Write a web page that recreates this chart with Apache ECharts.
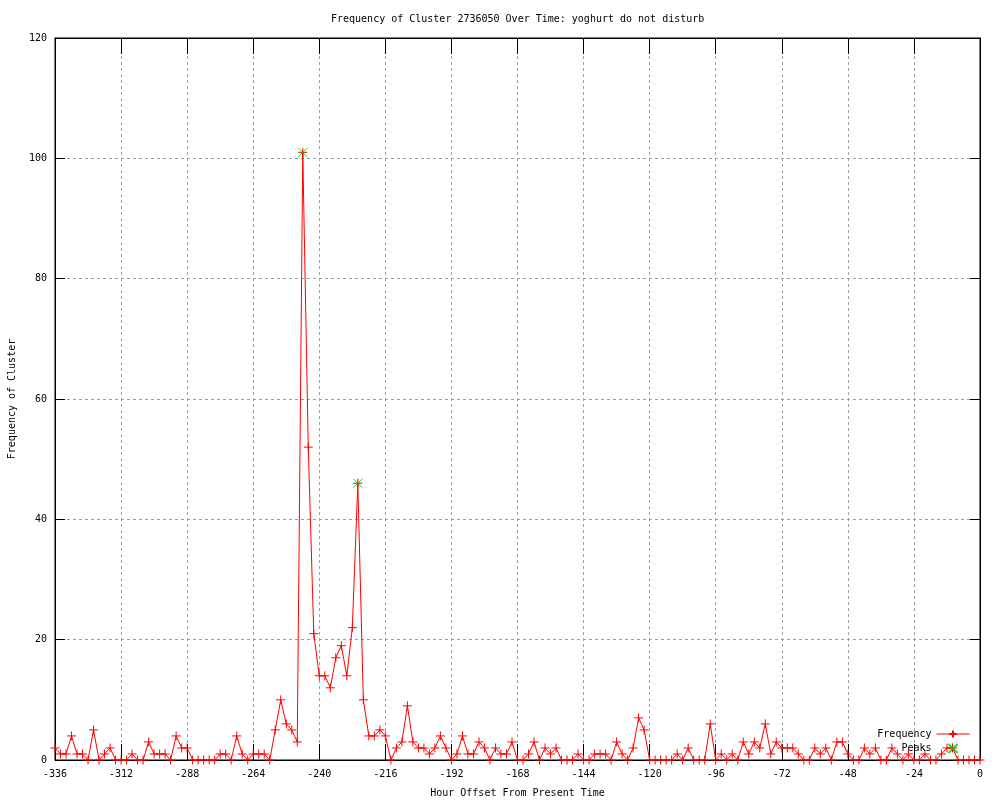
<!DOCTYPE html>
<html><head><meta charset="utf-8">
<script src="https://cdn.jsdelivr.net/npm/echarts@6/dist/echarts.min.js"></script>
<style>html,body{margin:0;padding:0;background:#fff}#c{width:1000px;height:800px}</style>
</head><body><div id="c"></div>
<script>
const titleText = 'Frequency of Cluster 2736050 Over Time: yoghurt do not disturb';
const xAxisTitle = 'Hour Offset From Present Time';
const yAxisTitle = 'Frequency of Cluster';
const seriesNames = ['Frequency', 'Peaks'];

const hours = [
  -336,-334,-332,-330,-328,-326,-324,-322,-320,-318,-316,-314,
  -312,-310,-308,-306,-304,-302,-300,-298,-296,-294,-292,-290,
  -288,-286,-284,-282,-280,-278,-276,-274,-272,-270,-268,-266,
  -264,-262,-260,-258,-256,-254,-252,-250,-248,-246,-244,-242,
  -240,-238,-236,-234,-232,-230,-228,-226,-224,-222,-220,-218,
  -216,-214,-212,-210,-208,-206,-204,-202,-200,-198,-196,-194,
  -192,-190,-188,-186,-184,-182,-180,-178,-176,-174,-172,-170,
  -168,-166,-164,-162,-160,-158,-156,-154,-152,-150,-148,-146,
  -144,-142,-140,-138,-136,-134,-132,-130,-128,-126,-124,-122,
  -120,-118,-116,-114,-112,-110,-108,-106,-104,-102,-100,-98,
  -96,-94,-92,-90,-88,-86,-84,-82,-80,-78,-76,-74,
  -72,-70,-68,-66,-64,-62,-60,-58,-56,-54,-52,-50,
  -48,-46,-44,-42,-40,-38,-36,-34,-32,-30,-28,-26,
  -24,-22,-20,-18,-16,-14,-12,-10,-8,-6,-4,-2,
  0
];
const frequency = [
  2,1,1,4,1,1,0,5,0,1,2,0,
  0,0,1,0,0,3,1,1,1,0,4,2,
  2,0,0,0,0,0,1,1,0,4,1,0,
  1,1,1,0,5,10,6,5,3,101,52,21,
  14,14,12,17,19,14,22,46,10,4,4,5,
  4,0,2,3,9,3,2,2,1,2,4,2,
  0,1,4,1,1,3,2,0,2,1,1,3,
  0,0,1,3,0,2,1,2,0,0,0,1,
  0,0,1,1,1,0,3,1,0,2,7,5,
  0,0,0,0,0,1,0,2,0,0,0,6,
  0,1,0,1,0,3,1,3,2,6,1,3,
  2,2,2,1,0,0,2,1,2,0,3,3,
  1,0,0,2,1,2,0,0,2,1,0,1,
  0,0,1,0,0,1,2,2,0,0,0,0,
  0
];
const peakHours = [-246, -226];
const peakValues = [101, 46];

const FONT = 'DejaVu Sans Mono';
const plusPath = 'path://M0,4.5L9,4.5M4.5,0L4.5,9';
const crossPath = 'path://M0,0L9,9M9,0L0,9';

const chart = echarts.init(document.getElementById('c'), null, {renderer: 'canvas'});

const gridLine = {show: true, lineStyle: {color: '#a0a0a0', type: [3, 3], width: 1}};
const baseX = {type: 'value', min: -336, max: 0, interval: 24};
const baseY = {type: 'value', min: 0, max: 120, interval: 20};

chart.setOption({
  animation: false,
  backgroundColor: '#ffffff',
  textStyle: {fontFamily: FONT},
  title: {
    text: titleText, left: 331, top: 13, padding: 0,
    textStyle: {fontFamily: FONT, fontSize: 10, fontWeight: 'normal', color: '#000', lineHeight: 13}
  },
  grid: {left: 55, right: 20, top: 38, bottom: 40, show: true, borderColor: '#000', borderWidth: 1,
         containLabel: false, outerBoundsMode: 'none'},
  legend: {
    orient: 'vertical', right: 30, top: 729, align: 'right', itemWidth: 33, itemHeight: 9, itemGap: 4, padding: 0,
    selectedMode: false,
    lineStyle: {width: 1},
    textStyle: {fontFamily: FONT, fontSize: 10, color: '#000'},
    data: seriesNames
  },
  xAxis: [
    Object.assign({}, baseX, {
      position: 'bottom',
      name: xAxisTitle, nameLocation: 'middle', nameGap: 28,
      nameTextStyle: {fontFamily: FONT, fontSize: 10, color: '#000'},
      axisLine: {show: true, onZero: false, lineStyle: {color: '#000', width: 1}},
      axisTick: {show: true, inside: true, length: 16, lineStyle: {color: '#000'}},
      axisLabel: {show: true, margin: 9, fontFamily: FONT, fontSize: 10, color: '#000'},
      splitLine: gridLine
    }),
    Object.assign({}, baseX, {
      position: 'top',
      axisLine: {show: true, onZero: false, lineStyle: {color: '#000', width: 1}},
      axisTick: {show: true, inside: true, length: 16, lineStyle: {color: '#000'}},
      axisLabel: {show: false}, splitLine: {show: false}
    })
  ],
  yAxis: [
    Object.assign({}, baseY, {
      position: 'left',
      name: yAxisTitle, nameLocation: 'middle', nameGap: 38, nameRotate: 90,
      nameTextStyle: {fontFamily: FONT, fontSize: 10, color: '#000'},
      axisLine: {show: true, onZero: false, lineStyle: {color: '#000', width: 1}},
      axisTick: {show: true, inside: true, length: 10, lineStyle: {color: '#000'}},
      axisLabel: {show: true, margin: 8, fontFamily: FONT, fontSize: 10, color: '#000'},
      splitLine: gridLine
    }),
    Object.assign({}, baseY, {
      position: 'right',
      axisLine: {show: true, onZero: false, lineStyle: {color: '#000', width: 1}},
      axisTick: {show: true, inside: true, length: 10, lineStyle: {color: '#000'}},
      axisLabel: {show: false}, splitLine: {show: false}
    })
  ],
  series: [
    {
      name: seriesNames[0], type: 'line', xAxisIndex: 0, yAxisIndex: 0,
      data: hours.map((h, i) => [h, frequency[i]]),
      symbol: plusPath, symbolSize: 9, showAllSymbol: true,
      lineStyle: {color: '#ff0000', width: 1},
      itemStyle: {color: '#ff0000', borderColor: '#ff0000', borderWidth: 1},
      emphasis: {disabled: true}, z: 3
    },
    {
      name: seriesNames[1], type: 'scatter', xAxisIndex: 0, yAxisIndex: 0,
      data: peakHours.map((h, i) => [h, peakValues[i]]),
      symbol: crossPath, symbolSize: 9,
      itemStyle: {color: '#00c000', borderColor: '#00c000', borderWidth: 1},
      emphasis: {disabled: true}, z: 4
    }
  ]
});
</script></body></html>
